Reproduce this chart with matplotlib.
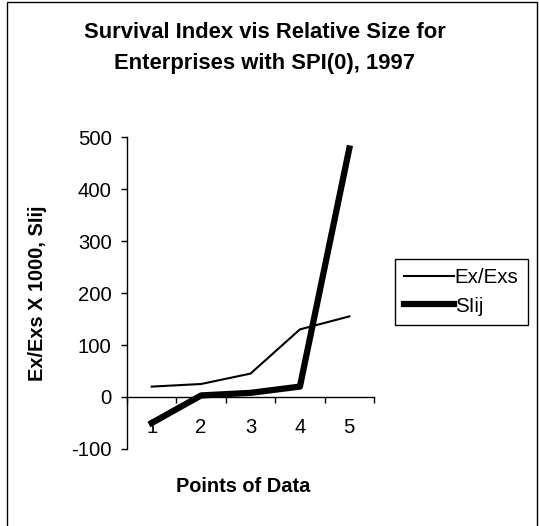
import numpy as np
import matplotlib
matplotlib.use("Agg")
import matplotlib.pyplot as plt
from matplotlib.patches import Rectangle

plt.rcParams['font.family'] = ['Liberation Sans', 'DejaVu Sans']
plt.rcParams['axes.unicode_minus'] = False

# data
points = [1, 2, 3, 4, 5]
ex_exs = [20, 25, 45, 130, 155]
siij = [-50, 3, 8, 20, 478]
y_ticks = [-100, 0, 100, 200, 300, 400, 500]

title_lines = ["Survival Index vis Relative Size for",
               "Enterprises with SPI(0), 1997"]


def main():
    fig = plt.figure(figsize=(5.39, 5.26), dpi=100)
    ax = fig.add_axes([0.2356, 0.1464, 0.4583, 0.5931])

    ax.plot(points, ex_exs, color="black", lw=1.5, label="Ex/Exs")
    ax.plot(points, siij, color="black", lw=4.5, label="SIij")

    ax.set_xlim(0.5, 5.5)
    ax.set_ylim(-100, 500)

    # category axis crosses at zero, like Excel
    ax.spines['top'].set_visible(False)
    ax.spines['right'].set_visible(False)
    ax.spines['bottom'].set_position(('data', 0))
    ax.spines['bottom'].set_linewidth(1.0)
    ax.spines['left'].set_linewidth(1.0)

    ax.set_yticks(y_ticks)
    ax.tick_params(axis='y', direction='out', length=4, width=1,
                   pad=7, labelsize=14.6)

    ax.set_xticks(np.arange(0.5, 5.6, 1.0))
    ax.set_xticklabels([])
    ax.set_xticks(points, minor=True)
    ax.set_xticklabels([str(p) for p in points], minor=True)
    ax.tick_params(axis='x', which='major', direction='out', length=4, width=1)
    ax.tick_params(axis='x', which='minor', length=0, pad=15, labelsize=14.6)

    ax.set_ylabel("Ex/Exs X 1000, SIij", fontsize=14.4, fontweight='bold')
    ax.yaxis.set_label_coords(-0.324, 0.5)

    fig.text(243.5 / 539, 1 - 486 / 526, "Points of Data", fontsize=14.4,
             fontweight='bold', ha='center', va='center')

    fig.text(264.5 / 539, 1 - 32 / 526, title_lines[0], fontsize=15.8,
             fontweight='bold', ha='center', va='center')
    fig.text(264.5 / 539, 1 - 63 / 526, title_lines[1], fontsize=15.8,
             fontweight='bold', ha='center', va='center')

    leg = ax.legend(loc='center left', bbox_to_anchor=(395 / 539, 1 - 292 / 526),
                    bbox_transform=fig.transFigure, fontsize=14.8,
                    fancybox=False, framealpha=1, edgecolor='black',
                    handlelength=2.4, handletextpad=0.05, borderpad=0.45,
                    labelspacing=0.45, borderaxespad=0)
    leg.get_frame().set_linewidth(1.0)

    # outer chart border
    fig.patches.append(Rectangle((7 / 539, -0.01), 530 / 539, 1.01 - 1.5 / 526,
                                 transform=fig.transFigure, fill=False,
                                 edgecolor='black', lw=1.0))

    fig.savefig("out.png", dpi=100)


if __name__ == "__main__":
    main()
